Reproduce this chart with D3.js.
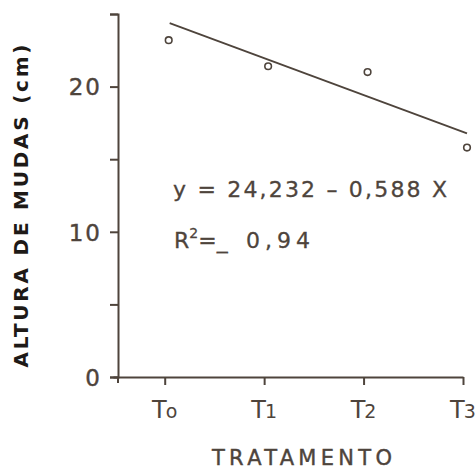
<!DOCTYPE html>
<html>
<head>
<meta charset="utf-8">
<script src="https://cdn.jsdelivr.net/npm/d3@7"></script>
<style>
  body { margin: 0; background: #fff; }
  svg { display: block; }
  svg text { font-family: "DejaVu Sans", sans-serif; }
</style>
</head>
<body>
<svg id="drawing_region"></svg>
<script>
// treatments and measured seedling heights
const treatments = ["T0", "T1", "T2", "T3"];
const treatX = [0, 1, 2, 3];
const heights = [23.2, 21.4, 21.0, 15.8];
// fitted regression line
const fitX = [0.05, 3.04];
const fitY = [24.37, 16.78];
const yTicks = [0, 5, 10, 15, 20, 25];
const yLabels = [0, 10, 20];

const ink = "#4e443c";
const width = 476, height = 470;

const svg = d3.select('#drawing_region')
    .attr('width', width)
    .attr('height', height);

const xscale = d3.scaleLinear()
    .domain([-0.52, 3])
    .range([113, 463]);

const yscale = d3.scaleLinear()
    .domain([0, 25])
    .range([377, 14]);

// y axis
const yaxis = d3.axisLeft(yscale)
    .tickValues(yTicks)
    .tickSize(8)
    .tickSizeOuter(8)
    .tickPadding(8)
    .tickFormat(d => yLabels.includes(d) ? d : "");

const ygroup = svg.append('g')
    .attr('transform', `translate(118, 0)`)
    .call(yaxis)
    .attr('font-family', null);

ygroup.select('.domain').attr('stroke', ink).attr('stroke-width', 2);
ygroup.selectAll('.tick line').attr('stroke', ink).attr('stroke-width', 2);
ygroup.selectAll('.tick text')
    .attr('fill', ink)
    .attr('stroke', ink)
    .attr('stroke-width', 0.4)
    .attr('font-size', 23)
    .attr('letter-spacing', 2)
    .attr('dy', '0.36em');

// y axis runs a bit below the x axis
svg.append('line')
    .attr('x1', 118).attr('x2', 118)
    .attr('y1', yscale(0)).attr('y2', yscale(0) + 6)
    .attr('stroke', ink).attr('stroke-width', 2);

// x axis
const xaxis = d3.axisBottom(xscale)
    .tickValues(treatX)
    .tickSize(8)
    .tickSizeOuter(0)
    .tickFormat("");

const xgroup = svg.append('g')
    .attr('transform', `translate(0, ${yscale(0)})`)
    .call(xaxis);

xgroup.select('.domain').attr('stroke', ink).attr('stroke-width', 2);
xgroup.selectAll('.tick line').attr('stroke', ink).attr('stroke-width', 2);

// treatment labels, T with a small index
const tl = svg.append('g').selectAll('text')
    .data(treatments)
    .join('text')
    .attr('x', (d, i) => xscale(treatX[i]))
    .attr('y', 418)
    .attr('text-anchor', 'middle')
    .attr('fill', ink)
    .attr('font-size', 24);
tl.append('tspan').text('T');
tl.append('tspan')
    .attr('font-size', 19)
    .attr('dx', -1)
    .text(d => d === "T0" ? "o" : d.slice(1));

// regression line
svg.append('path')
    .datum(fitX.map((x, i) => [x, fitY[i]]))
    .attr('fill', 'none')
    .attr('stroke', ink)
    .attr('stroke-width', 1.8)
    .attr('d', d3.line().x(d => xscale(d[0])).y(d => yscale(d[1])));

// observed points
svg.append('g').selectAll('circle')
    .data(heights)
    .join('circle')
    .attr('cx', (d, i) => xscale(treatX[i]) + 4)
    .attr('cy', d => yscale(d))
    .attr('r', 3.3)
    .attr('fill', 'none')
    .attr('stroke', ink)
    .attr('stroke-width', 1.6);

// equation
svg.append('text')
    .attr('x', 173).attr('y', 197)
    .attr('fill', ink)
    .attr('stroke', ink)
    .attr('stroke-width', 0.3)
    .attr('font-size', 22)
    .attr('textLength', 274)
    .attr('lengthAdjust', 'spacing')
    .text('y = 24,232 – 0,588 X');

const r2 = svg.append('text')
    .attr('x', 174).attr('y', 248)
    .attr('fill', ink)
    .attr('stroke', ink)
    .attr('stroke-width', 0.3)
    .attr('font-size', 22);
r2.append('tspan').text('R');
r2.append('tspan').attr('font-size', 14).attr('dy', -10).text('2');
r2.append('tspan').attr('dy', 10).text('=_');
r2.append('tspan').attr('x', 246).text('0,94')
    .attr('textLength', 64).attr('lengthAdjust', 'spacing');

// axis titles
svg.append('text')
    .attr('transform', 'translate(28, 206) rotate(-90)')
    .attr('text-anchor', 'middle')
    .attr('fill', '#1e1a17')
    .attr('font-size', 20)
    .attr('font-weight', 'bold')
    .attr('textLength', 323)
    .attr('lengthAdjust', 'spacing')
    .text('ALTURA DE MUDAS (cm)');

svg.append('text')
    .attr('x', 212).attr('y', 465)
    .attr('fill', ink)
    .attr('stroke', ink)
    .attr('stroke-width', 0.4)
    .attr('font-size', 21)
    .attr('textLength', 180)
    .attr('lengthAdjust', 'spacing')
    .text('TRATAMENTO');
</script>
</body>
</html>
